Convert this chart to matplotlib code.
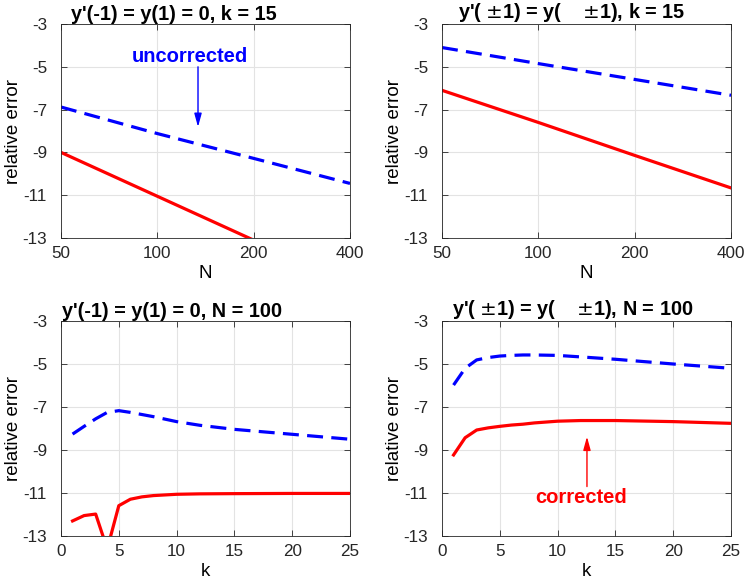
import matplotlib
matplotlib.use("Agg")
import matplotlib.pyplot as plt
from matplotlib.ticker import FixedLocator, FixedFormatter, NullLocator

plt.rcParams['font.family'] = ['Liberation Sans', 'DejaVu Sans']
plt.rcParams['axes.unicode_minus'] = False
plt.rcParams['mathtext.fontset'] = 'dejavusans'

# Top row: error vs N (k = 15)
N_vals = [50, 100, 200, 400]
tl_uncorr = [-6.88, -8.12, -9.28, -10.45]
tl_corr = [-9.0, -11.05, -13.1, -15.15]
tr_uncorr = [-4.1, -4.85, -5.59, -6.33]
tr_corr = [-6.1, -7.6, -9.14, -10.66]

# Bottom row: error vs k (N = 100)
k_vals = [1, 2, 3, 4, 5, 6, 7, 8, 10, 12, 15, 20, 25]
bl_uncorr = [-8.26, -7.9, -7.55, -7.25, -7.17, -7.25, -7.35, -7.45, -7.68, -7.85, -8.04, -8.27, -8.5]
bl_corr = [-12.3, -12.05, -11.98, -13.6, -11.59, -11.29, -11.18, -11.12, -11.06, -11.04, -11.03, -11.02, -11.02]
br_uncorr = [-5.98, -5.2, -4.81, -4.7, -4.63, -4.6, -4.58, -4.58, -4.6, -4.67, -4.78, -5.0, -5.2]
br_corr = [-9.23, -8.43, -8.07, -7.97, -7.9, -7.84, -7.8, -7.74, -7.66, -7.63, -7.63, -7.68, -7.76]

titles = ["y'(-1) = y(1) = 0, k = 15", "y'( $\\pm$1) = y(    $\\pm$1), k = 15",
          "y'(-1) = y(1) = 0, N = 100", "y'( $\\pm$1) = y(    $\\pm$1), N = 100"]
title_x = [0.389, 0.45, 0.384, 0.453]
yticks = [-13, -11, -9, -7, -5, -3]
N_ticks = [50, 100, 200, 400]
k_ticks = [0, 5, 10, 15, 20, 25]

W, H = 747, 581
fig = plt.figure(figsize=(W / 100, H / 100), dpi=100)

def box(l, r, t, b):
    return [l / W, 1 - b / H, (r - l) / W, (b - t) / H]

rects = [box(61, 350, 24, 238), box(442, 731, 24, 238),
         box(61, 350, 321, 536), box(442, 731, 321, 536)]

red = '#ff0000'
blue = '#0000ff'
lw = 2.3
dash = (0, (5, 2.6))
lab_fs = 13.5

axes = []
for i, rc in enumerate(rects):
    ax = fig.add_axes(rc)
    axes.append(ax)
    if i < 2:
        x = N_vals
        u, c = (tl_uncorr, tl_corr) if i == 0 else (tr_uncorr, tr_corr)
        ax.set_xscale('log')
        ax.set_xlim(50, 400)
        ax.xaxis.set_major_locator(FixedLocator(N_ticks))
        ax.xaxis.set_major_formatter(FixedFormatter([str(v) for v in N_ticks]))
        ax.xaxis.set_minor_locator(NullLocator())
        ax.set_xlabel('N', fontsize=lab_fs, labelpad=3)
    else:
        x = k_vals
        u, c = (bl_uncorr, bl_corr) if i == 2 else (br_uncorr, br_corr)
        ax.set_xlim(0, 25)
        ax.set_xticks(k_ticks)
        ax.set_xlabel('k', fontsize=lab_fs, labelpad=3)
    ax.plot(x, u, color=blue, lw=lw, linestyle=dash)
    ax.plot(x, c, color=red, lw=lw, linestyle='-')
    ax.set_ylim(-13, -3)
    ax.set_yticks(yticks)
    ax.set_ylabel('relative error', fontsize=lab_fs, labelpad=0)
    ax.text(title_x[i], 1.0, titles[i], transform=ax.transAxes, fontsize=14.3,
            fontweight='bold', ha='center', va='bottom')
    ax.grid(True, color='#e3e3e3', lw=0.8)
    ax.set_axisbelow(True)
    ax.tick_params(direction='in', top=True, right=True, labelsize=12.3,
                   colors='#262626', length=4, width=0.6)
    ax.tick_params(axis='y', pad=10)
    ax.tick_params(axis='x', pad=6)
    for s in ax.spines.values():
        s.set_color('#262626')
        s.set_linewidth(0.6)

# annotations
axes[0].annotate('', xy=(134, -7.81), xytext=(134, -5.0),
                 arrowprops=dict(arrowstyle='-|>,head_length=0.8,head_width=0.22',
                                 color=blue, lw=1.0, shrinkA=0, shrinkB=0))
axes[0].text(126.5, -4.5, 'uncorrected', color=blue, fontsize=14.5, fontweight='bold',
             ha='center', va='center')
axes[3].annotate('', xy=(12.54, -8.38), xytext=(12.54, -10.7),
                 arrowprops=dict(arrowstyle='-|>,head_length=0.8,head_width=0.22',
                                 color=red, lw=1.0, shrinkA=0, shrinkB=0))
axes[3].text(12.0, -11.23, 'corrected', color=red, fontsize=14.5, fontweight='bold',
             ha='center', va='center')

fig.savefig('out.png', dpi=100)
